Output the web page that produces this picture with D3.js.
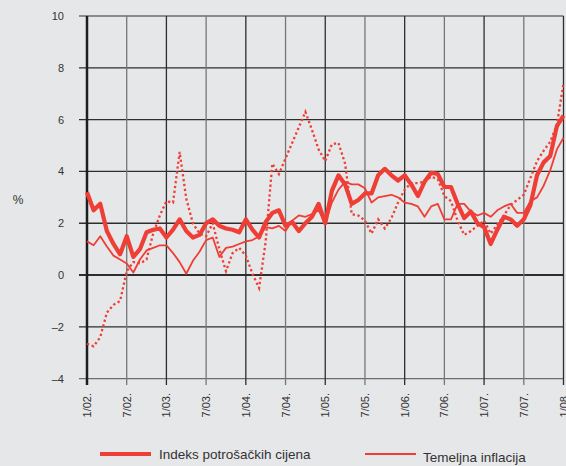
<!DOCTYPE html>
<html>
<head>
<meta charset="utf-8">
<script src="https://cdn.jsdelivr.net/npm/d3@7"></script>
<style>
  body { margin: 0; background: #e6e7e9; }
  svg { display: block; font-family: "Liberation Sans", Arial, sans-serif; }
</style>
</head>
<body>
<svg id="chart"></svg>
<script>
// monthly data 1/02 - 1/08 (73 months)
var cpi = [3.2, 2.5, 2.75, 1.7, 1.2, 0.8, 1.5, 0.7, 1.0, 1.65, 1.75, 1.8,
  1.45, 1.75, 2.15, 1.7, 1.45, 1.55, 2.0, 2.15, 1.9, 1.8, 1.75, 1.65,
  2.15, 1.75, 1.45, 2.05, 2.4, 2.5, 1.9, 2.05, 1.7, 2.0, 2.25, 2.75,
  2.0, 3.25, 3.85, 3.5, 2.75, 2.9, 3.15, 3.15, 3.85, 4.1, 3.85, 3.65,
  3.85, 3.5, 3.05, 3.6, 3.95, 3.9, 3.4, 3.4, 2.75, 2.2, 2.45, 2.0,
  1.85, 1.2, 1.75, 2.25, 2.15, 1.9, 2.15, 2.7, 3.85, 4.35, 4.6, 5.75,
  6.15];

var core = [1.3, 1.15, 1.5, 1.1, 0.75, 0.6, 0.45, 0.1, 0.6, 0.95, 1.05, 1.15,
  1.15, 0.85, 0.5, 0.05, 0.55, 0.9, 1.35, 1.45, 0.7, 1.05, 1.1, 1.2,
  1.3, 1.35, 1.5, 1.85, 1.8, 1.9, 1.7, 2.1, 2.3, 2.25, 2.35, 2.5,
  2.0, 2.8, 3.3, 3.6, 3.5, 3.5, 3.35, 2.8, 3.0, 3.05, 3.1, 3.0,
  2.8, 2.75, 2.65, 2.25, 2.65, 2.75, 2.15, 2.15, 2.75, 2.75, 2.45, 2.3,
  2.4, 2.25, 2.5, 2.65, 2.75, 2.4, 2.4, 2.85, 3.0, 3.45, 4.05, 4.85,
  5.3];

var third = [-2.65, -2.75, -2.4, -1.45, -1.15, -1.0, 0.15, 0.5, 0.45, 0.6, 1.6, 2.3,
  2.85, 2.8, 4.75, 2.95, 2.0, 1.6, 1.5, 2.0, 1.0, 0.15, 0.85, 1.05,
  0.75, 0.05, -0.5, 1.3, 4.3, 3.9, 4.5, 5.1, 5.7, 6.3, 5.6, 4.85,
  4.4, 5.05, 5.1, 4.3, 2.35, 2.3, 2.1, 1.6, 2.15, 1.8, 2.2, 2.8,
  3.3, 3.55, 3.55, 3.6, 3.8, 3.7, 3.05, 2.85, 2.1, 1.55, 1.7, 1.9,
  2.1, 1.6, 1.95, 2.3, 2.7, 2.9, 3.1, 3.75, 4.4, 4.8, 5.15, 5.8,
  7.4];

var xTickLabels = ['1/02.', '7/02.', '1/03.', '7/03.', '1/04.', '7/04.', '1/05.',
  '7/05.', '1/06.', '7/06.', '1/07.', '7/07.', '1/08.'];
var yTicks = [-4, -2, 0, 2, 4, 6, 8, 10];
var legendLabels = ['Indeks potrošačkih cijena', 'Temeljna inflacija'];

var width = 566, height = 466;
var red = '#ef3e36';

var svg = d3.select('#chart').attr('width', width).attr('height', height);

var xScale = d3.scaleLinear().domain([0, cpi.length - 1]).range([87, 563.5]);
var yScale = d3.scaleLinear().domain([-4, 10]).range([378.7, 16]);

var tickIdx = xTickLabels.map(function(d, i) { return i * 6; });

// horizontal grid
svg.append('g')
  .selectAll('line')
  .data(yTicks)
  .enter()
  .append('line')
  .attr('x1', 79).attr('x2', 563.5)
  .attr('y1', function(d) { return yScale(d); })
  .attr('y2', function(d) { return yScale(d); })
  .attr('stroke', function(d) { return (d == 10 || d == -4) ? '#6d6d6d' : '#2e2e2e'; })
  .attr('stroke-width', function(d) { return d == 0 ? 2 : 1.3; });

// vertical grid + ticks
svg.append('g')
  .selectAll('line')
  .data(tickIdx.slice(1))
  .enter()
  .append('line')
  .attr('x1', function(d) { return xScale(d); })
  .attr('x2', function(d) { return xScale(d); })
  .attr('y1', 16).attr('y2', 385)
  .attr('stroke', function(d, i) { return i % 2 == 0 ? '#777' : '#2e2e2e'; })
  .attr('stroke-width', 1.3);

// left axis
svg.append('line')
  .attr('x1', 87).attr('x2', 87)
  .attr('y1', 16).attr('y2', 385)
  .attr('stroke', '#1e1e1e').attr('stroke-width', 2.5);

// y labels
var yAxis = d3.axisLeft(yScale).tickValues(yTicks).tickSize(0).tickPadding(0)
  .tickFormat(function(d) { return d < 0 ? '\u2013' + Math.abs(d) : d; });
var yg = svg.append('g').attr('transform', 'translate(64,0)').call(yAxis);
yg.select('.domain').remove();
yg.selectAll('text').attr('font-size', 11).attr('fill', '#333')
  .attr('font-family', '"Liberation Sans", Arial, sans-serif');

svg.append('text').attr('x', 18).attr('y', 204).attr('text-anchor', 'middle')
  .attr('font-size', 12).attr('fill', '#333').text('%');

// x labels
svg.append('g')
  .selectAll('text')
  .data(tickIdx)
  .enter()
  .append('text')
  .attr('transform', function(d) { return 'translate(' + (xScale(d) + 4) + ',393) rotate(-90)'; })
  .attr('text-anchor', 'end')
  .attr('font-size', 11)
  .attr('fill', '#333')
  .text(function(d, i) { return xTickLabels[i]; });

var line = d3.line()
  .x(function(d, i) { return xScale(i); })
  .y(function(d) { return yScale(d); });

svg.append('path').attr('d', line(third))
  .attr('fill', 'none').attr('stroke', red).attr('stroke-width', 2.3)
  .attr('stroke-dasharray', '2.3,2.6');

svg.append('path').attr('d', line(core))
  .attr('fill', 'none').attr('stroke', red).attr('stroke-width', 1.8)
  .attr('stroke-linejoin', 'round');

svg.append('path').attr('d', line(cpi))
  .attr('fill', 'none').attr('stroke', red).attr('stroke-width', 4.2)
  .attr('stroke-linejoin', 'round');

// legend
var legend = svg.append('g');
legend.append('line').attr('x1', 100).attr('x2', 151).attr('y1', 454).attr('y2', 454)
  .attr('stroke', red).attr('stroke-width', 4.2);
legend.append('text').attr('x', 159).attr('y', 459).attr('font-size', 13.5)
  .attr('fill', '#333').text(legendLabels[0]);
legend.append('line').attr('x1', 365).attr('x2', 416).attr('y1', 454).attr('y2', 454)
  .attr('stroke', red).attr('stroke-width', 1.8);
legend.append('text').attr('x', 423).attr('y', 462).attr('font-size', 13.5)
  .attr('fill', '#333').text(legendLabels[1]);
</script>
</body>
</html>
